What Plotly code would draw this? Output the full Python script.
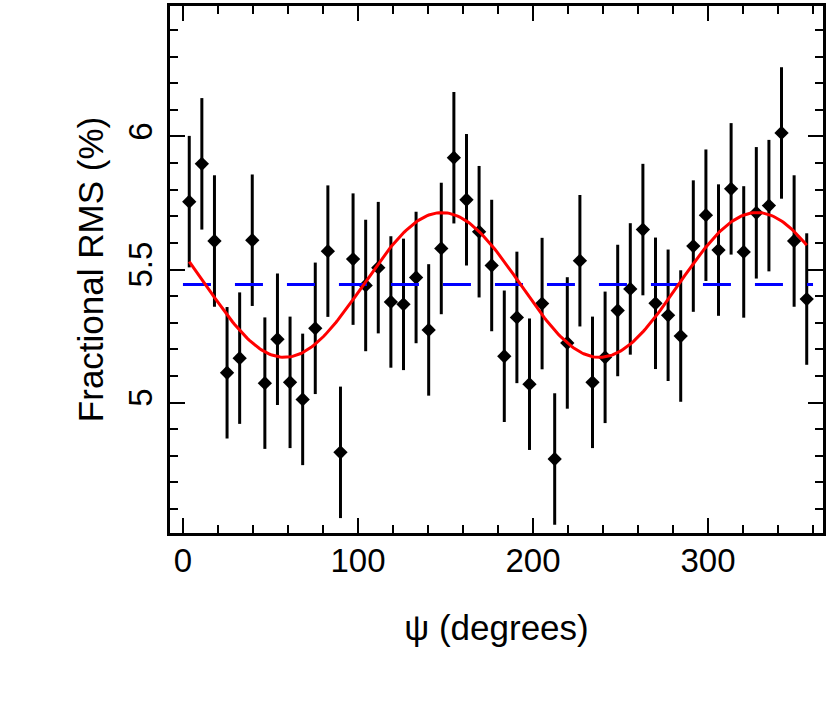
import numpy as np
import plotly.graph_objects as go

# phase bins (degrees) and fractional rms (%) with 1-sigma errors
psi = [3.6 + 7.2 * i for i in range(50)]
rms = [5.755, 5.897, 5.607, 5.112, 5.167, 5.610, 5.073, 5.238, 5.076, 5.012,
       5.279, 5.569, 4.813, 5.539, 5.440, 5.507, 5.378, 5.369, 5.470, 5.273,
       5.579, 5.920, 5.762, 5.642, 5.515, 5.174, 5.320, 5.069, 5.372, 4.788,
       5.224, 5.533, 5.076, 5.170, 5.346, 5.427, 5.650, 5.373, 5.328, 5.250,
       5.588, 5.704, 5.573, 5.803, 5.566, 5.713, 5.740, 6.013, 5.607, 5.389]
rms_err = [0.247] * 50

# constant model and sinusoidal fit (period 180 deg)
const_level = 5.444
fit_mean, fit_amp, fit_peak = 5.442, 0.272, 148.0

fit_x = np.linspace(psi[0], psi[-1], 300)
fit_y = fit_mean + fit_amp * np.cos(np.radians(2 * (fit_x - fit_peak)))

x_range = [-7.4, 365.7]
y_range = [4.51, 6.49]

fig = go.Figure()

fig.add_trace(go.Scatter(
    x=psi, y=rms, mode="markers",
    marker=dict(symbol="diamond", size=11, color="black"),
    error_y=dict(type="data", array=rms_err, visible=True,
                 color="black", thickness=3, width=0),
    showlegend=False,
))

fig.add_trace(go.Scatter(
    x=[0, 360], y=[const_level, const_level], mode="lines",
    line=dict(color="#0000ff", width=3, dash="28px,24px"),
    showlegend=False,
))

fig.add_trace(go.Scatter(
    x=fit_x, y=fit_y, mode="lines",
    line=dict(color="#ff0000", width=3),
    showlegend=False,
))

# empty trace so the top/right tick axes get drawn
fig.add_trace(go.Scatter(x=[None], y=[None], xaxis="x2", yaxis="y2",
                         showlegend=False, hoverinfo="skip"))

tick_style = dict(ticks="inside", ticklen=15, tickwidth=2, tickcolor="black",
                  showgrid=False, zeroline=False)
font_ticks = dict(size=33, color="black")
font_title = dict(size=35, color="black")

fig.update_layout(
    width=830, height=709,
    margin=dict(l=170, r=7, t=3, b=176),
    plot_bgcolor="white", paper_bgcolor="white",
    font=dict(family="Liberation Sans, Arial, sans-serif", color="black"),
    xaxis=dict(
        range=x_range, tickvals=[0, 100, 200, 300],
        minor=dict(dtick=20, ticks="inside", ticklen=8, tickwidth=2, tickcolor="black"),
        showline=True, linecolor="black", linewidth=3, mirror=True,
        tickfont=font_ticks, ticklabelstandoff=-4,
        title=dict(text="ψ (degrees)", font=font_title, standoff=38),
        **tick_style,
    ),
    yaxis=dict(
        range=y_range, tickvals=[5, 5.5, 6], ticktext=["5", "5.5", "6"],
        tickangle=-90,
        minor=dict(dtick=0.1, ticks="inside", ticklen=8, tickwidth=2, tickcolor="black"),
        showline=True, linecolor="black", linewidth=3, mirror=True,
        tickfont=font_ticks, ticklabelstandoff=2,
        title=dict(text="Fractional RMS (%)", font=font_title, standoff=8),
        **tick_style,
    ),
    xaxis2=dict(
        overlaying="x", side="top", range=x_range, tickvals=[0, 100, 200, 300],
        minor=dict(dtick=20, ticks="inside", ticklen=8, tickwidth=2, tickcolor="black"),
        showticklabels=False, showline=False, **tick_style,
    ),
    yaxis2=dict(
        overlaying="y", side="right", range=y_range, tickvals=[5, 5.5, 6],
        minor=dict(dtick=0.1, ticks="inside", ticklen=8, tickwidth=2, tickcolor="black"),
        showticklabels=False, showline=False, **tick_style,
    ),
)

fig.write_html("out.html", config={"displayModeBar": False},
               post_script="document.body.style.margin='0';")
